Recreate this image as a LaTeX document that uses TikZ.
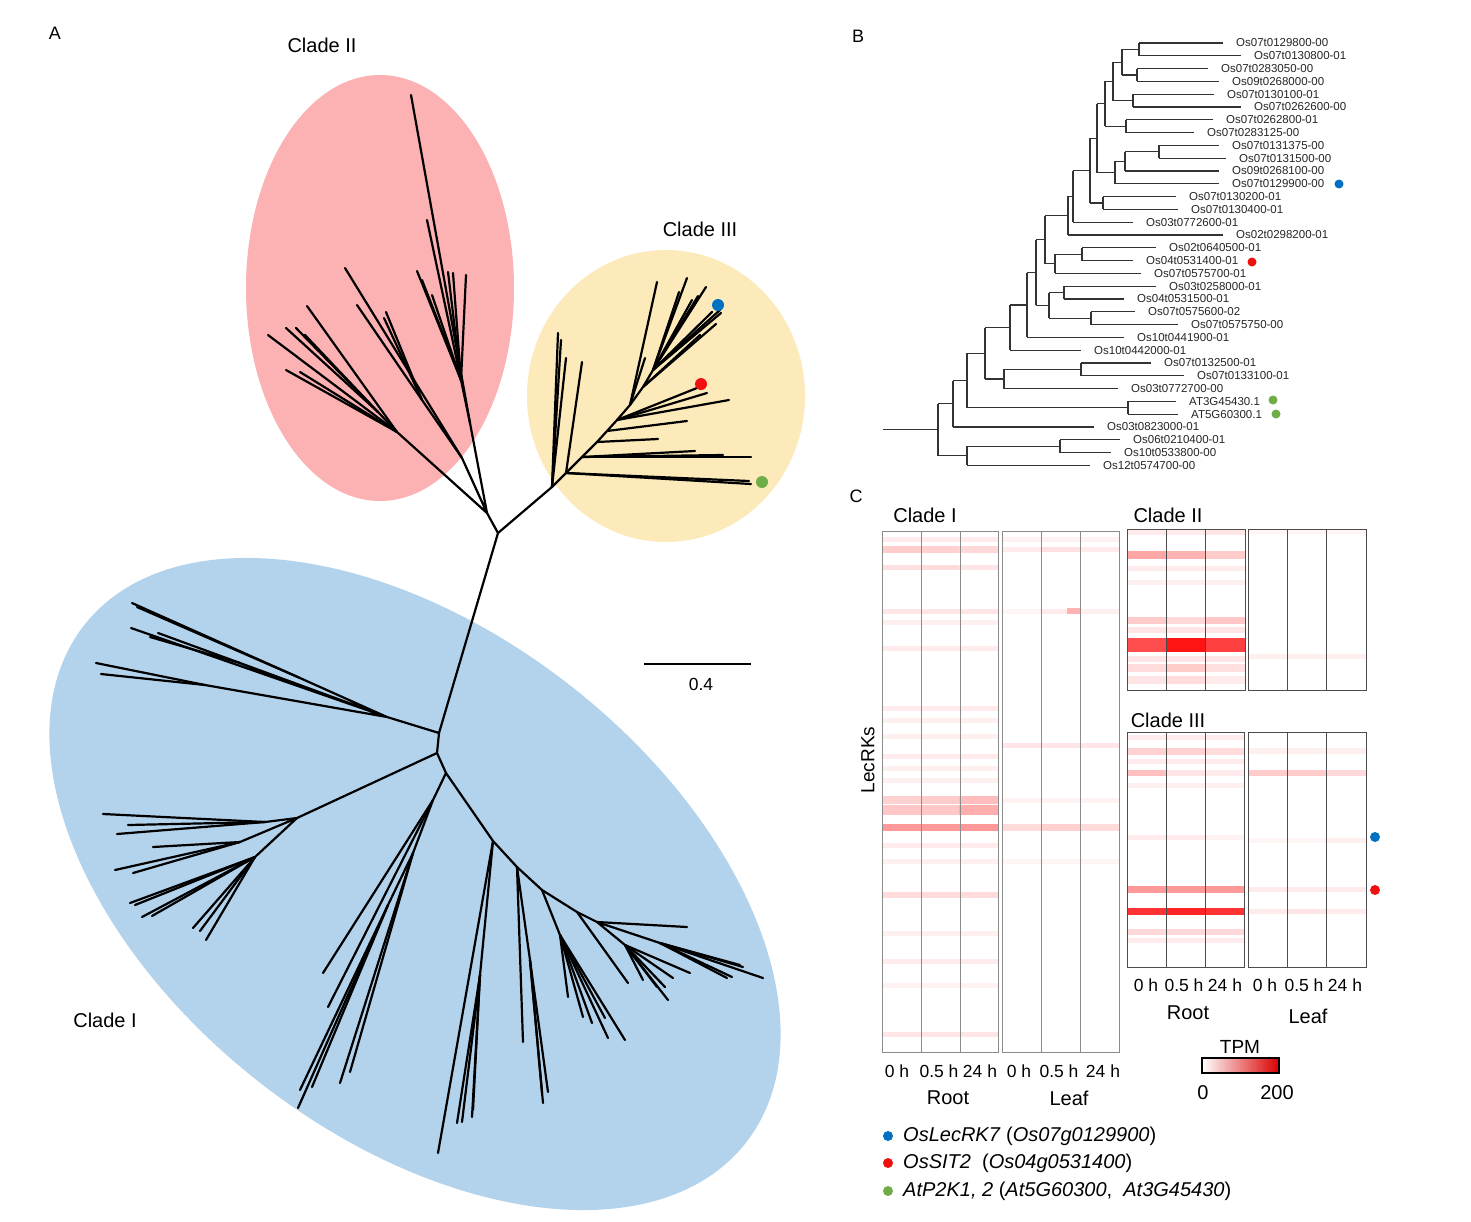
\documentclass[tikz,border=0pt]{standalone}
\usepackage{fontspec}
\setmainfont{Liberation Sans}

\definecolor{cladeone}{RGB}{179,211,236}
\definecolor{cladetwo}{RGB}{252,178,178}
\definecolor{cladethree}{RGB}{253,234,187}
\definecolor{dotblue}{RGB}{0,112,192}
\definecolor{dotred}{RGB}{240,16,16}
\definecolor{dotgreen}{RGB}{112,173,71}

\tikzset{
  branch/.style={line width=2.2pt, line cap=round},
  btree/.style={line width=1.1pt, black!80},
  gene/.style={anchor=west, inner sep=0pt, text=black!85, font=\fontsize{11.5}{12}\selectfont},
  panel/.style={font=\fontsize{18}{20}\selectfont},
  clade/.style={font=\fontsize{20}{24}\selectfont},
  tick/.style={font=\fontsize{17.5}{20}\selectfont},
  hmframe/.style={line width=1pt, black!45},
  hmgrid/.style={line width=1pt, black!45},
  legend/.style={anchor=west, inner sep=0pt, font=\fontsize{20}{24}\selectfont}
}

% one heatmap block: left x, column width, rows y/h/c1/c2/c3
\newcommand\heat[3]{%
  \foreach \y/\h/\a/\b/\c in {#3} {
    \fill[red!\a!white] (#1,\y-\h/2) rectangle ++(#2,\h);
    \fill[red!\b!white] (#1+#2,\y-\h/2) rectangle ++(#2,\h);
    \fill[red!\c!white] (#1+2*#2,\y-\h/2) rectangle ++(#2,\h);
  }}

\begin{document}
\begin{tikzpicture}[x=1pt,y=-1pt]
  \useasboundingbox[fill=white] (0,0) rectangle (1471,1221);

  % ---------- A: unrooted tree ----------
  \fill[cladeone, rotate around={-38:(415,884)}] (415,884) ellipse [x radius=420, y radius=252];
  \fill[cladetwo] (380,288) ellipse [x radius=134, y radius=213];
  \fill[cladethree] (666,396) ellipse [x radius=139, y radius=146];

  \node[panel] (pa) at (55,33) {A};
  \node[clade] (l2) at (322,45) {Clade II};
  \node[clade] (l3) at (700,229) {Clade III};
  \node[clade] (l1) at (105,1020) {Clade I};

  \coordinate (n0) at (498,533);

  % clade II
  \coordinate (c2) at (487,513);
  \coordinate (c2a) at (397,432);
  \coordinate (c2a1) at (378,412);
  \coordinate (c2b) at (462,458);
  \coordinate (c2b1) at (422,400);
  \coordinate (c2c) at (470,423);
  \coordinate (c2c1) at (461,380);
  \draw[branch] (n0) -- (c2) (c2) -- (c2a) -- (c2a1) (c2) -- (c2b) -- (c2b1) (c2) -- (c2c) -- (c2c1);
  \foreach \p in {(268,335),(286,370),(300,372),(307,306)} \draw[branch] (c2a) -- \p;
  \foreach \p in {(286,328),(296,328),(305,335)} \draw[branch] (c2a1) -- \p;
  \draw[branch] (c2b) -- (345,268);
  \foreach \p in {(357,305),(386,312),(384,318)} \draw[branch] (c2b1) -- \p;
  \draw[branch] (c2c) -- (411,95);
  \foreach \p in {(427,220),(417,271),(422,280),(432,295),(448,272),(453,273),(466,275)} \draw[branch] (c2c1) -- \p;

  % clade III
  \coordinate (c3) at (552,487);
  \coordinate (p1) at (566,473);
  \coordinate (p2) at (582,457);
  \coordinate (p3) at (597,442);
  \coordinate (p4) at (607,431);
  \coordinate (p5) at (617,420);
  \coordinate (p6) at (630,405);
  \coordinate (p7) at (643,387);
  \coordinate (p8) at (653,370);
  \draw[branch] (n0) -- (c3) -- (p1) -- (p2) -- (p3) -- (p4) -- (p5) -- (p6) -- (p7) -- (p8);
  \foreach \p in {(558,333),(561,340),(566,358)} \draw[branch] (c3) -- \p;
  \foreach \p in {(749,481),(751,484),(582,362)} \draw[branch] (p1) -- \p;
  \foreach \p in {(751,457),(723,455),(695,451)} \draw[branch] (p2) -- \p;
  \draw[branch] (p3) -- (658,439);
  \draw[branch] (p4) -- (687,421);
  \foreach \p in {(729,400),(707,393),(697,388)} \draw[branch] (p5) -- \p;
  \foreach \p in {(657,282),(645,358)} \draw[branch] (p6) -- \p;
  \foreach \p in {(700,335),(716,324)} \draw[branch] (p7) -- \p;
  \foreach \p in {(687,278),(679,292),(706,287),(712,312),(721,313),(692,300),(698,296),(720,310)} \draw[branch] (p8) -- \p;

  % clade I
  \coordinate (c1a) at (439,733);
  \coordinate (c1b) at (437,753);
  \coordinate (c1c) at (446,773);
  \draw[branch] (n0) -- (c1a) -- (c1b) -- (c1c);
  \coordinate (h1) at (387,717);
  \coordinate (h1a) at (300,678);
  \coordinate (h1b) at (240,663);
  \coordinate (h1c) at (205,685);
  \draw[branch] (c1a) -- (h1) (h1) -- (h1a) (h1) -- (h1b) (h1) -- (h1c) (h1) -- (131,628);
  \foreach \p in {(132,603),(137,607)} \draw[branch] (h1a) -- \p;
  \foreach \p in {(158,633),(150,637)} \draw[branch] (h1b) -- \p;
  \foreach \p in {(96,663),(101,674)} \draw[branch] (h1c) -- \p;
  \coordinate (h2) at (297,818);
  \coordinate (h2a) at (265,822);
  \coordinate (h2b) at (240,842);
  \coordinate (h2c) at (255,857);
  \draw[branch] (c1b) -- (h2) (h2) -- (h2a) (h2) -- (h2b) (h2) -- (h2c);
  \foreach \p in {(103,814),(128,825),(117,834)} \draw[branch] (h2a) -- \p;
  \foreach \p in {(153,847),(115,870),(133,873)} \draw[branch] (h2b) -- \p;
  \foreach \p in {(130,903),(135,905),(142,917),(152,916),(193,928),(200,931),(206,940)} \draw[branch] (h2c) -- \p;
  \coordinate (f1) at (433,800);
  \coordinate (f2) at (413,853);
  \coordinate (f3) at (388,905);
  \draw[branch] (c1c) -- (f1) -- (f2) -- (f3);
  \foreach \p in {(323,973),(328,1007)} \draw[branch] (f1) -- \p;
  \foreach \p in {(340,1083),(350,1072)} \draw[branch] (f2) -- \p;
  \foreach \p in {(300,1090),(298,1108),(312,1087)} \draw[branch] (f3) -- \p;
  \coordinate (g1) at (493,841);
  \coordinate (g2) at (517,867);
  \coordinate (g3) at (542,890);
  \coordinate (g4) at (577,912);
  \coordinate (g5) at (597,922);
  \coordinate (g1a) at (480,975);
  \coordinate (g2a) at (530,960);
  \coordinate (g3a) at (560,935);
  \coordinate (g5a) at (625,945);
  \coordinate (g5b) at (660,943);
  \draw[branch] (c1c) -- (g1) -- (g2) -- (g3) -- (g4) -- (g5);
  \draw[branch] (g1) -- (g1a) (g2) -- (g2a) (g3) -- (g3a) (g5) -- (g5a) (g5) -- (g5b);
  \draw[branch] (g1) -- (438,1153) (g2) -- (523,1042) (g4) -- (628,983) (g5) -- (687,927);
  \foreach \p in {(457,1123),(462,1122),(472,1117),(473,1110)} \draw[branch] (g1a) -- \p;
  \foreach \p in {(543,1103),(548,1092),(542,1093)} \draw[branch] (g2a) -- \p;
  \foreach \p in {(568,997),(583,1017),(592,1023),(608,1038),(625,1040),(605,1018)} \draw[branch] (g3a) -- \p;
  \foreach \p in {(668,1000),(643,980),(657,987),(665,987),(673,978),(690,973)} \draw[branch] (g5a) -- \p;
  \foreach \p in {(740,965),(763,978),(727,978),(732,977),(743,967)} \draw[branch] (g5b) -- \p;

  % marked genes
  \fill[dotblue] (718,305) circle [radius=6];
  \fill[dotred] (701,384) circle [radius=6];
  \fill[dotgreen] (762,482) circle [radius=6];

  % scale bar
  \coordinate (sb1) at (644,664);
  \coordinate (sb2) at (751,664);
  \draw[line width=2pt] (sb1) -- (sb2);
  \node[tick] (sbl) at (701,684) {0.4};

  % ---------- B: rectangular tree ----------
  \node[panel] (pb) at (858,36) {B};
  % internal nodes: x / top child y / bottom child y / parent x
  \foreach \x/\ya/\yb/\px in {
      1139/43/55.8/1122, 1137/68.6/81.4/1122, 1122/49.4/75/1113, 1133/94.2/107/1113,
      1113/62.2/100.6/1105, 1126/119.8/132.6/1105, 1105/81.4/126.2/1097,
      1159/145.4/158.2/1125, 1125/151.8/171/1115, 1115/161.4/183.8/1097,
      1097/103.8/172.6/1090, 1103/196.6/209.4/1090, 1090/138.2/203/1073,
      1073/170.6/222.2/1068, 1068/196.4/235/1045, 1082/247.8/260.6/1055,
      1055/254.2/273.4/1045, 1045/215.7/263.8/1036, 1064/286.2/299/1049,
      1091/311.8/324.6/1049, 1049/292.6/318.2/1036, 1036/239.75/305.4/1027,
      1027/272.6/337.4/1010, 1010/305/350.2/985, 1081/363/375.8/1004,
      1004/369.4/388.6/985, 985/327.6/379/967, 1128/401.4/414.2/967,
      967/353.3/407.8/953, 953/380.55/427/938, 1060/439.8/452.6/967,
      967/446.2/465.4/938, 938/403.8/455.8/883}
    \draw[btree] (\x,\ya) -- (\x,\yb) (\px,{(\ya+\yb)/2}) -- (\x,{(\ya+\yb)/2});
  % leaves: parent x / row / end x / name
  \foreach \px/\r/\xe/\lab in {
      1139/1/1223/Os07t0129800-00, 1139/2/1241/Os07t0130800-01,
      1137/3/1208/Os07t0283050-00, 1137/4/1219/Os09t0268000-00,
      1133/5/1214/Os07t0130100-01, 1133/6/1241/Os07t0262600-00,
      1126/7/1213/Os07t0262800-01, 1126/8/1194/Os07t0283125-00,
      1159/9/1219/Os07t0131375-00, 1159/10/1226/Os07t0131500-00,
      1125/11/1219/Os09t0268100-00, 1115/12/1219/Os07t0129900-00,
      1103/13/1176/Os07t0130200-01, 1103/14/1178/Os07t0130400-01,
      1073/15/1133/Os03t0772600-01, 1068/16/1223/Os02t0298200-01,
      1082/17/1156/Os02t0640500-01, 1082/18/1133/Os04t0531400-01,
      1055/19/1141/Os07t0575700-01, 1064/20/1156/Os03t0258000-01,
      1064/21/1124/Os04t0531500-01, 1091/22/1135/Os07t0575600-02,
      1091/23/1178/Os07t0575750-00, 1027/24/1124/Os10t0441900-01,
      1010/25/1081/Os10t0442000-01, 1081/26/1151/Os07t0132500-01,
      1081/27/1184/Os07t0133100-01, 1004/28/1118/Os03t0772700-00,
      1128/29/1176/AT3G45430.1, 1128/30/1178/AT5G60300.1,
      953/31/1094/Os03t0823000-01, 1060/32/1120/Os06t0210400-01,
      1060/33/1111/Os10t0533800-00, 967/34/1090/Os12t0574700-00} {
    \pgfmathsetmacro\yy{43+12.8*(\r-1)}
    \draw[btree] (\px,\yy) -- (\xe,\yy);
    \node[gene] (gene\r) at (\xe+13,\yy) {\lab};
  }
  \fill[dotblue] (1339,184) circle [radius=4.5];
  \fill[dotred] (1252,262) circle [radius=4.5];
  \fill[dotgreen] (1273,400) circle [radius=4.5];
  \fill[dotgreen] (1276,414) circle [radius=4.5];

  % ---------- C: heatmaps ----------
  \node[panel] (pc) at (856,496) {C};
  \node[clade] (hm1) at (925,515) {Clade I};
  \node[clade] (hm2) at (1168,515) {Clade II};
  \node[clade] (hm3) at (1168,720) {Clade III};
  \node[clade, rotate=90, font=\fontsize{19}{22}\selectfont] (lec) at (868,760) {LecRKs};

  % clade I, root and leaf
  \heat{882}{38.7}{539/5/8/8/8, 549/7/20/18/15, 567/5/12/14/10, 611/5/10/10/10, 622/5/6/6/6,
    648/5/8/8/8, 708/5/8/8/8, 720/5/6/6/6, 736/5/6/6/6, 756/5/8/8/8, 768/5/6/6/6,
    780/5/6/6/6, 800/8/18/20/26, 810/10/22/22/32, 827/7/40/40/40, 845/5/8/8/8,
    861/5/6/6/6, 895/6/14/14/14, 933/5/6/6/6, 961/5/8/8/8, 985/5/5/5/5, 1034/5/10/10/10}
  \heat{1002}{39}{539/5/5/5/5, 549/5/8/12/8, 611/5/4/8/6, 745/5/10/10/10, 800/5/5/5/5,
    827/7/14/18/14, 861/5/4/4/4}
  \fill[red!30!white] (1067,608) rectangle (1080,614);
  \draw[hmframe] (882,531) rectangle (998,1052);
  \draw[hmframe] (1002,531) rectangle (1119,1052);
  \draw[hmgrid] (921,531) -- (921,1052) (960,531) -- (960,1052) (1041,531) -- (1041,1052) (1080,531) -- (1080,1052);

  % clade II
  \heat{1127}{39.3}{532/5/8/8/10, 555/8/35/30/20, 568/5/8/8/8, 582/5/6/6/6, 620/7/20/15/22,
    630/6/10/10/10, 645/14/70/92/75, 659/6/10/10/10, 668/8/14/20/12, 680/8/10/14/8}
  \heat{1248}{39.3}{532/4/4/4/4, 656/5/6/6/6}
  \draw[hmframe, black!70] (1127,529) rectangle (1245,690);
  \draw[hmframe, black!70] (1248,529) rectangle (1366,690);
  \draw[hmgrid, black!70] (1166,529) -- (1166,690) (1205,529) -- (1205,690) (1287,529) -- (1287,690) (1326,529) -- (1326,690);

  % clade III
  \heat{1127}{39}{737/5/8/8/8, 751/7/18/18/14, 761/5/8/8/8, 773/6/25/10/8, 785/5/6/6/6,
    837/5/8/8/5, 889/7/40/40/40, 911/7/80/86/80, 932/6/15/15/15, 940/5/8/8/8}
  \heat{1248}{39.3}{751/6/6/6/6, 773/6/20/20/15, 840/5/4/4/6, 889/5/8/8/8, 911/5/8/10/8}
  \draw[hmframe, black!70] (1127,732) rectangle (1244,967);
  \draw[hmframe, black!70] (1248,732) rectangle (1366,967);
  \draw[hmgrid, black!70] (1166,732) -- (1166,967) (1205,732) -- (1205,967) (1287,732) -- (1287,967) (1326,732) -- (1326,967);
  \fill[dotblue] (1375,837) circle [radius=5];
  \fill[dotred] (1375,890) circle [radius=5];

  % column labels
  \foreach \x/\t [count=\i] in {897/0 h, 939/0.5 h, 980/24 h, 1019/0 h, 1059/0.5 h, 1103/24 h}
    \node[tick] (ta\i) at (\x,1071) {\t};
  \foreach \x/\t [count=\i] in {1146/0 h, 1184/0.5 h, 1225/24 h, 1265/0 h, 1304/0.5 h, 1345/24 h}
    \node[tick] (tb\i) at (\x,985) {\t};
  \node[clade] (ra) at (948,1098) {Root};
  \node[clade] (la) at (1069,1098) {Leaf};
  \node[clade] (rb) at (1188,1013) {Root};
  \node[clade] (lb) at (1308,1016) {Leaf};

  % colour key
  \node[clade, font=\fontsize{19}{22}\selectfont] (tpm) at (1240,1047) {TPM};
  \shade[left color=white, right color=red!85!black] (1202,1058) rectangle (1279,1073);
  \draw[line width=2pt] (1202,1058) rectangle (1279,1073);
  \node[clade] (k0) at (1203,1093) {0};
  \node[clade] (k200) at (1277,1093) {200};

  % legend
  \fill[dotblue] (888,1136) circle [radius=5];
  \fill[dotred] (888,1163) circle [radius=5];
  \fill[dotgreen] (888,1191) circle [radius=5];
  \node[legend] (lg1) at (903,1136) {\textit{OsLecRK7} (\textit{Os07g0129900})};
  \node[legend] (lg2) at (903,1163) {\textit{OsSIT2}\ \ (\textit{Os04g0531400})};
  \node[legend] (lg3) at (903,1191) {\textit{AtP2K1, 2} (\textit{At5G60300},\ \ \textit{At3G45430})};
\end{tikzpicture}
\end{document}
